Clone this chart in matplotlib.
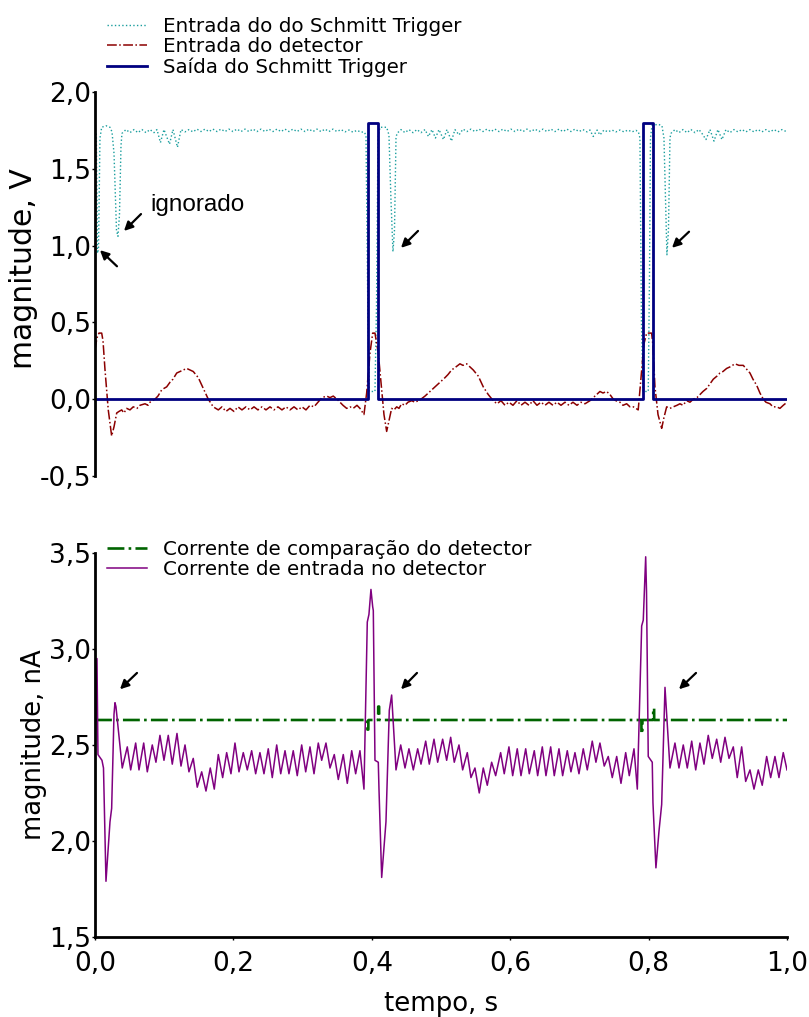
import numpy as np
import matplotlib
matplotlib.use("Agg")
import matplotlib.pyplot as plt

# ---------------------------------------------------------------------------
# Data (time in milliseconds, magnitudes in V / nA)
# ---------------------------------------------------------------------------

# Schmitt trigger input (V)
st_in_ms = [0.0, 1.9, 3.6, 5.1, 7.2, 9.7, 15.9, 21.7, 24.6, 27.5, 31.1, 33.2, 35.4, 37.6,
            39.0, 44.8, 50.6, 56.4, 62.1, 67.9, 73.7, 79.5, 85.3, 89.6, 94.6, 99.7, 107.7,
            112.7, 119.2, 124.3, 130.1, 135.8, 141.6, 147.4, 153.2, 158.9, 164.7, 170.5,
            176.3, 182.1, 187.9, 193.6, 199.4, 205.2, 211.0, 216.8, 222.5, 228.3, 234.1,
            239.9, 245.7, 251.4, 257.2, 263.0, 268.8, 274.6, 280.3, 286.1, 291.9, 297.7,
            303.5, 309.2, 315.0, 320.8, 326.6, 332.4, 338.1, 343.9, 349.7, 355.5, 361.3,
            367.0, 372.8, 378.6, 384.4, 388.7,
            391.6, 394.5, 396.4, 404.6, 406.8, 409.0, 411.8, 421.5, 424.8, 427.7, 430.6,
            432.8, 435.0, 436.4,
            442.2, 448.0, 453.7, 459.5, 465.3, 471.1, 476.9, 481.9, 487.0, 492.0, 497.1,
            503.6, 508.6, 515.1, 520.2, 526.0, 531.8, 537.5, 543.3, 549.1, 554.9, 560.7,
            566.4, 572.2, 578.0, 583.8, 589.6, 595.3, 601.1, 606.9, 612.7, 618.5, 624.2,
            630.0, 635.8, 641.6, 647.4, 653.1, 658.9, 664.7, 670.5, 676.3, 682.0, 687.8,
            693.6, 699.4, 705.2, 710.9, 715.3, 720.0, 725.6, 729.7, 735.5, 741.3, 747.1,
            752.8, 758.6, 764.4, 770.2, 776.0, 781.7, 785.3,
            787.5, 789.7, 791.9, 799.5, 801.3, 802.7, 804.9, 813.6, 819.3, 822.2, 824.4,
            826.5, 828.7, 830.9, 832.3,
            838.1, 843.9, 849.7, 855.5, 861.2, 867.0, 872.8, 877.1, 882.9, 888.7, 894.5,
            900.2, 906.0, 911.8, 917.6, 923.4, 929.1, 934.9, 940.7, 946.5, 952.3, 958.0,
            963.8, 969.6, 975.4, 981.2, 986.9, 992.7, 1000.0]
st_in_v = [1.75, 1.74, 0.95, 0.98, 1.70, 1.77, 1.78, 1.77, 1.74, 1.60, 1.10, 1.06, 1.20, 1.65,
           1.73, 1.755, 1.735, 1.755, 1.735, 1.755, 1.735, 1.755, 1.735, 1.755, 1.67, 1.755, 1.66,
           1.755, 1.64, 1.755, 1.74, 1.755, 1.74, 1.758, 1.742, 1.758, 1.742, 1.758,
           1.742, 1.758, 1.742, 1.758, 1.742, 1.758, 1.742, 1.758, 1.742, 1.758, 1.742,
           1.758, 1.742, 1.758, 1.742, 1.758, 1.742, 1.758, 1.742, 1.758, 1.742, 1.758,
           1.742, 1.758, 1.742, 1.758, 1.742, 1.758, 1.742, 1.758, 1.742, 1.755, 1.740,
           1.752, 1.738, 1.750, 1.738, 1.740,
           1.72, 0.50, 0.05, 0.05, 0.60, 1.70, 1.77, 1.77, 1.72, 1.30, 0.96,
           1.10, 1.70, 1.73,
           1.755, 1.735, 1.755, 1.735, 1.755, 1.735, 1.755, 1.71, 1.755, 1.70, 1.755,
           1.69, 1.755, 1.68, 1.755, 1.72, 1.758, 1.742, 1.758, 1.742, 1.758, 1.742,
           1.758, 1.742, 1.758, 1.742, 1.758, 1.742, 1.758, 1.742, 1.758, 1.742, 1.758,
           1.742, 1.758, 1.742, 1.758, 1.742, 1.758, 1.742, 1.758, 1.742, 1.758, 1.742,
           1.758, 1.742, 1.755, 1.740, 1.752, 1.71, 1.752, 1.72, 1.752, 1.740, 1.752,
           1.740, 1.752, 1.740, 1.752, 1.740, 1.750, 1.74,
           1.70, 0.50, 0.05, 0.05, 0.80, 1.70, 1.78, 1.79, 1.78, 1.70, 1.30,
           0.94, 1.10, 1.70, 1.73,
           1.755, 1.735, 1.755, 1.735, 1.755, 1.735, 1.755, 1.73, 1.69, 1.755, 1.68,
           1.755, 1.69, 1.755, 1.735, 1.755, 1.740, 1.755, 1.740, 1.755, 1.740, 1.755,
           1.740, 1.755, 1.740, 1.755, 1.740, 1.755, 1.740]

# Detector input (V)
det_in_ms = [0.0, 2.9, 5.8, 9.7, 11.6, 14.5, 19.2, 24.1, 27.5, 31.4, 34.7, 38.6, 41.9, 45.8,
             50.6, 55.3, 60.7, 65.0, 72.3, 76.6, 79.5, 86.7, 91.0, 96.4, 99.7, 103.6, 108.4,
             112.7, 118.1, 122.8, 127.2, 132.5, 137.3, 142.0, 149.3, 156.5, 163.7, 170.9,
             178.2, 183.5, 189.3, 195.1, 200.9, 206.6, 212.4, 218.2, 224.0, 229.8, 235.5,
             241.3, 247.1, 252.9, 258.7, 264.4, 270.2, 276.0, 281.8, 287.6, 293.3, 299.1,
             304.9, 310.7, 316.5, 322.2, 328.0, 334.8, 339.6, 344.3, 349.7, 354.0, 358.4,
             363.7, 368.5, 373.2, 378.6, 382.9, 388.7, 392.6, 397.4, 401.3, 404.6, 409.4,
             414.3, 417.6, 421.5, 424.8, 428.7, 432.1, 436.0, 439.3, 443.2, 448.0, 452.3,
             457.6, 462.4, 467.2, 471.1, 476.9, 484.1, 493.8, 498.5, 505.8, 510.1, 515.4,
             521.6, 527.4, 531.8, 537.1, 541.9, 546.6, 553.9, 561.1, 568.3, 575.5, 580.9,
             586.7, 592.5, 598.2, 604.0, 609.8, 615.6, 621.4, 627.1, 632.9, 638.7, 644.5,
             650.3, 656.0, 661.8, 667.6, 673.4, 679.2, 684.9, 690.7, 696.5, 702.3, 708.1,
             715.3, 722.5, 729.7, 734.1, 739.4, 744.2, 749.0, 752.8, 758.6, 763.0, 768.3,
             773.1, 777.9, 781.7, 785.0, 790.0, 793.3, 797.2, 804.4, 806.3, 809.2, 813.6,
             818.9, 822.2, 826.1, 830.9, 835.7, 841.0, 845.3, 849.7, 855.0, 859.8, 864.6,
             869.9, 874.2, 878.6, 884.0, 888.7, 893.5, 898.8, 903.1, 907.5, 912.8, 917.6,
             924.8, 930.6, 936.8, 940.7, 946.5, 950.8, 956.2, 960.9, 965.7, 969.6, 975.4,
             979.7, 985.1, 989.8, 994.6, 1000.0]
det_in_v = [0.32, 0.40, 0.43, 0.43, 0.38, 0.19, -0.07, -0.24, -0.18, -0.09, -0.08, -0.07, -0.09, -0.06,
            -0.07, -0.05, -0.06, -0.04, -0.03, -0.04, -0.02, 0.00, 0.02, 0.06, 0.07, 0.08, 0.11,
            0.13, 0.17, 0.18, 0.19, 0.20, 0.19, 0.18, 0.14, 0.07, 0.00, -0.05,
            -0.07, -0.05, -0.08, -0.06, -0.08, -0.05, -0.07, -0.05, -0.07, -0.05, -0.07,
            -0.05, -0.07, -0.05, -0.07, -0.05, -0.07, -0.05, -0.07, -0.05, -0.07, -0.05,
            -0.07, -0.04, -0.05, -0.02, 0.01, 0.02, 0.01, 0.02, 0.00, -0.02, -0.04,
            -0.06, -0.05, -0.06, -0.04, -0.06, -0.10, 0.04, 0.30, 0.43, 0.43, 0.30,
            0.06, -0.10, -0.21, -0.14, -0.06, -0.07, -0.05, -0.06, -0.03, -0.04, -0.02,
            -0.01, -0.02, -0.01, 0.00, 0.02, 0.05, 0.09, 0.11, 0.14, 0.16, 0.19,
            0.21, 0.23, 0.22, 0.23, 0.21, 0.19, 0.15, 0.08, 0.03, -0.01, -0.03,
            -0.01, -0.04, -0.02, -0.04, -0.01, -0.04, -0.02, -0.04, -0.01, -0.04, -0.02,
            -0.04, -0.02, -0.04, -0.02, -0.04, -0.02, -0.04, -0.02, -0.04, -0.02, -0.03,
            -0.01, 0.02, 0.05, 0.04, 0.05, 0.03, 0.00, -0.01, -0.02, -0.04, -0.03,
            -0.05, -0.05, -0.06, -0.07, 0.19, 0.36, 0.43, 0.43, 0.35, 0.08, -0.10,
            -0.19, -0.12, -0.05, -0.06, -0.05, -0.04, -0.03, -0.04, -0.01, -0.02, 0.00,
            0.01, 0.03, 0.05, 0.07, 0.10, 0.13, 0.15, 0.17, 0.18, 0.20, 0.21,
            0.23, 0.22, 0.22, 0.20, 0.17, 0.13, 0.09, 0.04, 0.00, -0.02, -0.03,
            -0.05, -0.05, -0.06, -0.04, -0.02]

# Schmitt trigger output (V)
st_out_ms = [0.0, 395.0, 395.0, 409.4, 409.4, 791.5, 791.5, 805.9, 805.9, 1000.0]
st_out_v = [0.0, 0.0, 1.8, 1.8, 0.0, 0.0, 1.8, 1.8, 0.0, 0.0]

# Detector comparison current (nA)
cmp_ms = [0.0, 393.6, 393.7, 395.0, 395.1, 409.2, 409.3, 410.6, 410.7,
          789.6, 789.7, 791.0, 791.1, 806.6, 806.7, 808.0, 808.1, 1000.0]
cmp_na = [2.63, 2.63, 2.58, 2.58, 2.63, 2.63, 2.70, 2.70, 2.63,
          2.63, 2.56, 2.56, 2.63, 2.63, 2.69, 2.69, 2.63, 2.63]

# Detector input current (nA)
cur_ms = [0.0, 2.9, 4.3, 10.1, 12.3, 15.9, 21.7, 24.1, 27.5, 28.9, 30.3, 39.4, 46.7, 51.6,
          58.8, 63.6, 70.4, 75.6, 82.8, 88.1, 93.9, 99.7, 105.9, 111.7, 118.5, 124.3,
          130.1, 135.8, 142.0, 147.8, 154.2, 160.4, 166.6, 172.4, 178.2, 184.5, 190.3,
          196.5, 202.3, 208.1, 214.3, 220.1, 226.4, 232.2, 238.4, 244.2, 250.4, 256.2,
          262.6, 268.4, 274.6, 280.3, 286.5, 292.3, 298.7, 304.5, 310.7, 316.5, 322.7,
          327.6, 333.8, 339.6, 345.8, 351.6, 358.8, 364.6, 371.0, 376.7, 382.9, 388.7,
          393.5, 395.9, 398.8, 401.3, 402.2, 404.6, 409.4, 410.4, 414.3, 420.5, 425.3,
          428.7, 435.0, 441.8, 448.0, 453.7, 460.0, 466.3, 471.1, 477.9, 483.1, 489.9,
          495.2, 502.4, 508.2, 514.0, 519.2, 526.0, 531.3, 538.0, 543.3, 549.1, 555.3,
          561.1, 566.9, 573.2, 579.0, 586.2, 591.4, 598.2, 603.6, 610.2, 615.6, 622.4,
          627.6, 634.8, 639.7, 646.4, 651.7, 658.5, 663.7, 670.5, 675.8, 682.5, 687.8,
          693.6, 699.4, 705.6, 711.4, 718.6, 723.9, 729.7, 735.9, 741.7, 747.5, 753.9,
          760.1, 766.9, 772.1, 778.9, 783.7, 790.0, 792.3, 795.8, 797.0, 799.5, 805.3,
          806.3, 810.6, 815.0, 818.9, 823.7, 830.9, 838.1, 843.9, 850.1, 855.9, 862.3,
          868.1, 874.2, 880.0, 886.2, 892.0, 898.4, 904.2, 910.4, 916.2, 922.4, 928.1,
          934.5, 940.3, 946.5, 952.3, 958.5, 964.2, 970.6, 976.4, 982.6, 988.4, 994.6,
          1000.0]
cur_na = [2.40, 2.95, 2.45, 2.42, 2.38, 1.79, 2.10, 2.17, 2.66, 2.72, 2.70, 2.38, 2.49, 2.37,
          2.51, 2.37, 2.51, 2.36, 2.50, 2.41, 2.55, 2.42, 2.55, 2.40, 2.56, 2.39,
          2.50, 2.36, 2.43, 2.28, 2.36, 2.26, 2.38, 2.27, 2.45, 2.33, 2.46,
          2.35, 2.51, 2.36, 2.46, 2.37, 2.47, 2.35, 2.46, 2.35, 2.48, 2.33,
          2.50, 2.35, 2.47, 2.35, 2.47, 2.34, 2.50, 2.36, 2.49, 2.35, 2.51,
          2.42, 2.51, 2.38, 2.45, 2.32, 2.45, 2.30, 2.47, 2.35, 2.47, 2.27,
          3.14, 3.18, 3.31, 3.22, 3.20, 2.42, 2.41, 2.27, 1.81, 2.10, 2.68,
          2.76, 2.37, 2.50, 2.38, 2.48, 2.37, 2.48, 2.40, 2.52, 2.40, 2.53,
          2.41, 2.53, 2.42, 2.54, 2.41, 2.50, 2.37, 2.46, 2.33, 2.38, 2.25,
          2.38, 2.29, 2.41, 2.34, 2.46, 2.35, 2.49, 2.34, 2.48, 2.34, 2.48,
          2.35, 2.47, 2.34, 2.49, 2.34, 2.49, 2.34, 2.48, 2.34, 2.47, 2.36,
          2.46, 2.35, 2.48, 2.37, 2.52, 2.41, 2.51, 2.39, 2.44, 2.33, 2.44,
          2.30, 2.46, 2.34, 2.48, 2.27, 3.12, 3.15, 3.48, 3.30, 2.44, 2.41,
          2.20, 1.86, 2.05, 2.19, 2.80, 2.38, 2.51, 2.38, 2.50, 2.38, 2.52,
          2.37, 2.51, 2.40, 2.55, 2.43, 2.53, 2.41, 2.54, 2.43, 2.49, 2.33,
          2.49, 2.31, 2.37, 2.27, 2.37, 2.29, 2.44, 2.33, 2.44, 2.33, 2.46,
          2.37]

# Axis ticks
time_ticks = [0.0, 0.2, 0.4, 0.6, 0.8, 1.0]
time_labels = ["0,0", "0,2", "0,4", "0,6", "0,8", "1,0"]
volt_ticks = [-0.5, 0.0, 0.5, 1.0, 1.5, 2.0]
volt_labels = ["-0,5", "0,0", "0,5", "1,0", "1,5", "2,0"]
amp_ticks = [1.5, 2.0, 2.5, 3.0, 3.5]
amp_labels = ["1,5", "2,0", "2,5", "3,0", "3,5"]

# Arrow annotations: (tip time s, tip value, tail time s, tail value)
volt_arrows = [(0.0072, 0.97, 0.0318, 0.865),
               (0.0419, 1.095, 0.0665, 1.205),
               (0.4422, 0.985, 0.4668, 1.095),
               (0.8338, 0.985, 0.8584, 1.09)]
amp_arrows = [(0.0361, 2.79, 0.0607, 2.875),
              (0.4422, 2.79, 0.4653, 2.875),
              (0.8439, 2.79, 0.8685, 2.875)]


def secs(ms):
    return np.asarray(ms) / 1000.0


# ---------------------------------------------------------------------------
# Figure
# ---------------------------------------------------------------------------
plt.rcParams["font.family"] = ["DejaVu Sans"]

fig = plt.figure(figsize=(8.09, 10.17), dpi=100)
ax1 = fig.add_axes([0.1174, 0.5320, 0.8554, 0.3776])
ax2 = fig.add_axes([0.1174, 0.0787, 0.8554, 0.3776])

# --- upper panel: voltages ---
l1, = ax1.plot(secs(st_in_ms), st_in_v, color="#1a9e9e", ls=":", lw=1.0,
               label="Entrada do do Schmitt Trigger")
l2, = ax1.plot(secs(det_in_ms), det_in_v, color="#8b0000", ls="-.", lw=1.1,
               label="Entrada do detector")
l3, = ax1.plot(secs(st_out_ms), st_out_v, color="#000080", ls="-", lw=2.0,
               label="Saída do Schmitt Trigger")

ax1.set_xlim(0, 1.0)
ax1.set_ylim(-0.5, 2.0)
ax1.set_yticks(volt_ticks)
ax1.set_yticklabels(volt_labels)
ax1.set_xticks([])
for side in ("top", "right", "bottom"):
    ax1.spines[side].set_visible(False)
ax1.spines["left"].set_linewidth(2.0)
ax1.tick_params(axis="y", direction="out", length=2.5, width=1, pad=0.5, labelsize=19)
ax1.set_ylabel("magnitude, V", fontsize=21.5)
ax1.yaxis.set_label_coords(-0.082, 0.539)

for tx, ty, sx, sy in volt_arrows:
    ax1.annotate("", xy=(tx, ty), xytext=(sx, sy),
                 arrowprops=dict(arrowstyle="-|>", color="black", lw=1.6,
                                 mutation_scale=13, shrinkA=0, shrinkB=0))
ax1.text(0.0795, 1.225, "ignorado", fontsize=17.5, family="Liberation Sans",
         ha="left", va="baseline")

fig.legend(handles=[l1, l2, l3], loc="upper left",
           bbox_to_anchor=(0.1323, 0.9833), bbox_transform=fig.transFigure,
           frameon=False, fontsize=14.3, handlelength=2.0, handletextpad=0.8,
           labelspacing=0.07, borderpad=0, borderaxespad=0)

# --- lower panel: currents ---
m1, = ax2.plot(secs(cmp_ms), cmp_na, color="#006400", ls="-.", lw=1.9,
               label="Corrente de comparação do detector")
m2, = ax2.plot(secs(cur_ms), cur_na, color="#800080", ls="-", lw=1.1,
               label="Corrente de entrada no detector")

ax2.set_xlim(0, 1.0)
ax2.set_ylim(1.5, 3.5)
ax2.set_xticks(time_ticks)
ax2.set_xticklabels(time_labels)
ax2.set_yticks(amp_ticks)
ax2.set_yticklabels(amp_labels)
for side in ("top", "right"):
    ax2.spines[side].set_visible(False)
ax2.spines["left"].set_linewidth(2.0)
ax2.spines["bottom"].set_linewidth(2.0)
ax2.tick_params(axis="both", direction="out", length=2.5, width=1, labelsize=19)
ax2.tick_params(axis="y", pad=0.5)
ax2.tick_params(axis="x", pad=7.5)
ax2.set_ylabel("magnitude, nA", fontsize=18.6)
ax2.yaxis.set_label_coords(-0.069, 0.5)
ax2.set_xlabel("tempo, s", fontsize=18.7, labelpad=10.5)

for tx, ty, sx, sy in amp_arrows:
    ax2.annotate("", xy=(tx, ty), xytext=(sx, sy),
                 arrowprops=dict(arrowstyle="-|>", color="black", lw=1.6,
                                 mutation_scale=13, shrinkA=0, shrinkB=0))

ax2.legend(handles=[m1, m2], loc="upper left",
           bbox_to_anchor=(0.1323, 0.469), bbox_transform=fig.transFigure,
           frameon=False, fontsize=14.3, handlelength=2.0, handletextpad=0.8,
           labelspacing=0.07, borderpad=0, borderaxespad=0)

fig.savefig("out.png", dpi=100)
